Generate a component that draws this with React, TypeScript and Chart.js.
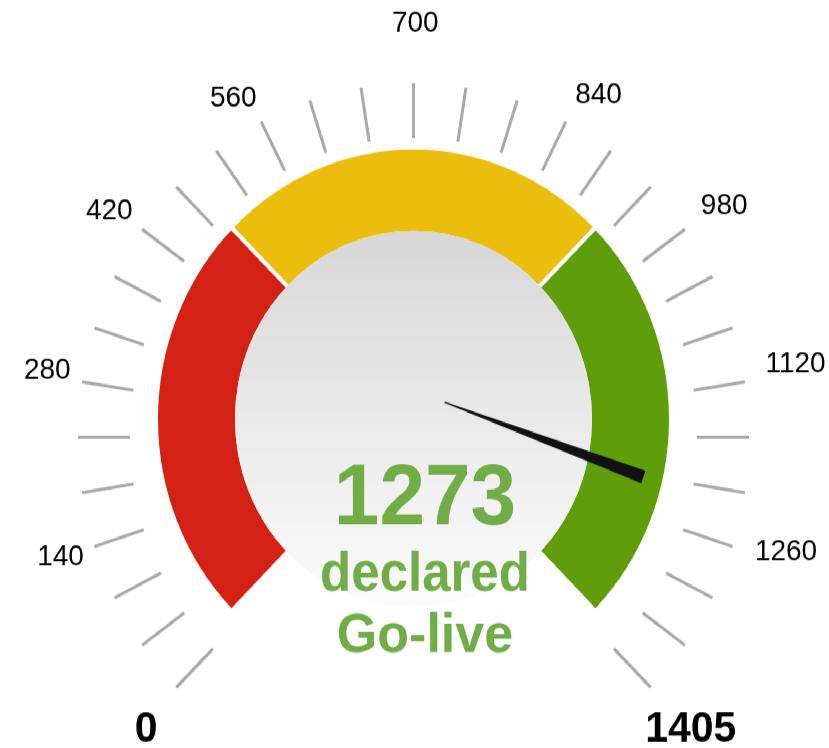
import { useEffect, useRef } from "react";
import { Chart, registerables } from "chart.js";

Chart.register(...registerables);

// ---- data ----
const gaugeMin = 0;
const gaugeMax = 1405;
const bandEnds = [468, 937, 1405];
const bandColors = ["#D32215", "#EBBE0E", "#609D0A"];
const tickSteps = 30;
const labelValues = [0, 140, 280, 420, 560, 700, 840, 980, 1120, 1260, 1405];
const labelTexts = ["0", "140", "280", "420", "560", "700", "840", "980", "1120", "1260", "1405"];
const needleValue = 1273;
const centerLines = ["1273", "declared", "Go-live"];

// ---- layout ----
const W = 829;
const SCREEN_H = 748;
const STRETCH = 1.055;
const H = Math.round(SCREEN_H / STRETCH);
const FONT = '"Liberation Sans", Arial, Helvetica, sans-serif';

const angleFor = (v: number) =>
  ((-135 + ((v - gaugeMin) / (gaugeMax - gaugeMin)) * 270) * Math.PI) / 180;

const gaugePlugin = {
  id: "gaugeDecor",
  beforeDatasetsDraw(chart: any) {
    const arc = chart.getDatasetMeta(0).data[0];
    if (!arc) return;
    const ctx = chart.ctx;
    const cx = arc.x;
    const cy = arc.y + 17.2;
    ctx.save();
    // ticks
    ctx.strokeStyle = "#a9a9a9";
    ctx.lineWidth = 3;
    ctx.lineCap = "butt";
    for (let i = 0; i <= tickSteps; i++) {
      const v = gaugeMin + (i * (gaugeMax - gaugeMin)) / tickSteps;
      const a = angleFor(v);
      const s = Math.sin(a), c = -Math.cos(a);
      ctx.beginPath();
      ctx.moveTo(cx + s * 283.5, cy + c * 283.5);
      ctx.lineTo(cx + s * 335.5, cy + c * 335.5);
      ctx.stroke();
    }
    // labels
    ctx.fillStyle = "#000";
    const lx = cx + 5;
    const ly = cy + 5;
    labelValues.forEach((v, i) => {
      const a = angleFor(v);
      const s = Math.sin(a), c = Math.cos(a);
      const isEnd = i === 0 || i === labelValues.length - 1;
      if (isEnd) {
        ctx.font = `bold 41px ${FONT}`;
        ctx.textAlign = "center";
        ctx.textBaseline = "middle";
        const R = 385;
        ctx.fillText(labelTexts[i], lx + s * R, ly - c * R);
        return;
      }
      ctx.font = `28px ${FONT}`;
      const centered = Math.abs(s) < 0.05;
      const R = centered ? 383 : 352;
      const x = lx + s * R;
      const y = ly - c * R;
      ctx.textAlign = centered ? "center" : s < 0 ? "right" : "left";
      ctx.textBaseline = c > 0.05 ? "bottom" : c < -0.35 ? "top" : "middle";
      ctx.fillText(labelTexts[i], x, y);
    });
    ctx.restore();
  },
  afterDatasetsDraw(chart: any) {
    const arc = chart.getDatasetMeta(0).data[0];
    if (!arc) return;
    const ctx = chart.ctx;
    const cx = arc.x;
    const cy = arc.y;
    const r = arc.innerRadius + 2;
    ctx.save();
    // inner gray dial
    const g = ctx.createLinearGradient(0, cy - r, 0, cy + r);
    g.addColorStop(0, "#d7d7d7");
    g.addColorStop(1, "#fcfcfc");
    ctx.fillStyle = g;
    ctx.beginPath();
    ctx.arc(cx, cy, r, 0, Math.PI * 2);
    ctx.fill();

    // needle
    const a = angleFor(needleValue);
    const dx = Math.sin(a), dy = -Math.cos(a);
    const px = -dy, py = dx;
    const ox = cx, oy = cy - 27;
    const r0 = 33, r1 = 244;
    const w0 = 0.6, w1 = 6.2;
    ctx.fillStyle = "#111111";
    ctx.beginPath();
    ctx.moveTo(ox + dx * r0 + px * w0, oy + dy * r0 + py * w0);
    ctx.lineTo(ox + dx * r1 + px * w1, oy + dy * r1 + py * w1);
    ctx.lineTo(ox + dx * r1 - px * w1, oy + dy * r1 - py * w1);
    ctx.lineTo(ox + dx * r0 - px * w0, oy + dy * r0 - py * w0);
    ctx.closePath();
    ctx.fill();

    // center text
    ctx.fillStyle = "#70AD47";
    ctx.textAlign = "center";
    ctx.textBaseline = "alphabetic";
    const tx = cx + 11.5;
    ctx.font = `bold 82px ${FONT}`;
    ctx.fillText(centerLines[0], tx, cy + 99.5);
    ctx.font = `bold 51px ${FONT}`;
    ctx.fillText(centerLines[1], tx, cy + 162.8);
    ctx.font = `bold 52px ${FONT}`;
    ctx.fillText(centerLines[2], tx, cy + 220.8);
    ctx.restore();
  },
};

export default function App() {
  const ref = useRef<HTMLCanvasElement | null>(null);
  useEffect(() => {
    document.body.style.margin = "0";
    const canvas = ref.current;
    if (!canvas) return;
    const data: number[] = bandEnds.map((e, i) => e - (i === 0 ? gaugeMin : bandEnds[i - 1]));
    const chart = new Chart(canvas, {
      type: "doughnut",
      data: {
        labels: ["low", "mid", "high"],
        datasets: [
          {
            data,
            backgroundColor: bandColors,
            borderColor: "#ffffff",
            borderWidth: 4,
            hoverOffset: 0,
          } as any,
        ],
      },
      options: {
        responsive: false,
        animation: false,
        devicePixelRatio: 1,
        events: [],
        rotation: -135,
        circumference: 270,
        cutout: `${(176.5 / 257.5) * 100}%`,
        radius: 257.5,
        layout: { padding: { top: 10, bottom: 0, left: 0, right: 2 } },
        plugins: { legend: { display: false }, tooltip: { enabled: false } },
      } as any,
      plugins: [gaugePlugin],
    });
    return () => chart.destroy();
  }, []);
  return (
    <div
      style={{
        position: "fixed",
        left: 0,
        top: 0,
        width: W,
        height: H,
        transform: `scaleY(${SCREEN_H / H})`,
        transformOrigin: "0 0",
        background: "#fff",
      }}
    >
      <canvas ref={ref} width={W} height={H} style={{ display: "block", width: W, height: H }} />
    </div>
  );
}
